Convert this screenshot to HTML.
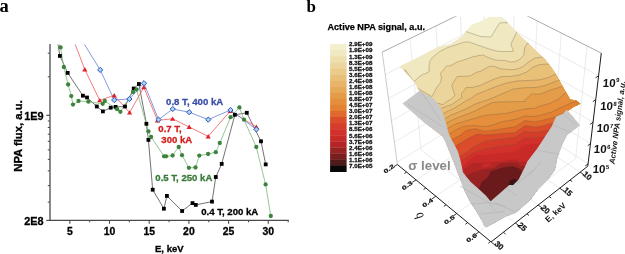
<!DOCTYPE html>
<html><head><meta charset="utf-8"><style>
html,body{margin:0;padding:0;background:#fff;width:625px;height:254px;overflow:hidden}
svg{display:block;will-change:transform}
</style></head><body>
<svg width="625" height="254" viewBox="0 0 625 254">
<rect width="625" height="254" fill="#fff"/>
<line x1="50" y1="44" x2="50" y2="221" stroke="#4a4a4a" stroke-width="1.3"/>
<line x1="49.4" y1="220.4" x2="288.8" y2="220.4" stroke="#4a4a4a" stroke-width="1.3"/>
<line x1="47.8" y1="53.2" x2="50" y2="53.2" stroke="#4a4a4a" stroke-width="1"/>
<line x1="47.8" y1="76.8" x2="50" y2="76.8" stroke="#4a4a4a" stroke-width="1"/>
<line x1="47.8" y1="121" x2="50" y2="121" stroke="#4a4a4a" stroke-width="1"/>
<line x1="47.8" y1="127.5" x2="50" y2="127.5" stroke="#4a4a4a" stroke-width="1"/>
<line x1="47.8" y1="134.2" x2="50" y2="134.2" stroke="#4a4a4a" stroke-width="1"/>
<line x1="47.8" y1="141.3" x2="50" y2="141.3" stroke="#4a4a4a" stroke-width="1"/>
<line x1="47.8" y1="149.9" x2="50" y2="149.9" stroke="#4a4a4a" stroke-width="1"/>
<line x1="47.8" y1="159.4" x2="50" y2="159.4" stroke="#4a4a4a" stroke-width="1"/>
<line x1="47.8" y1="170.9" x2="50" y2="170.9" stroke="#4a4a4a" stroke-width="1"/>
<line x1="47.8" y1="185.6" x2="50" y2="185.6" stroke="#4a4a4a" stroke-width="1"/>
<line x1="47.8" y1="202.1" x2="50" y2="202.1" stroke="#4a4a4a" stroke-width="1"/>
<line x1="46.3" y1="115.3" x2="50" y2="115.3" stroke="#4a4a4a" stroke-width="1.2"/>
<line x1="46.3" y1="220.4" x2="50" y2="220.4" stroke="#4a4a4a" stroke-width="1.2"/>
<line x1="69.8" y1="220.4" x2="69.8" y2="223.8" stroke="#4a4a4a" stroke-width="1.1"/>
<line x1="89.7" y1="220.4" x2="89.7" y2="222.3" stroke="#4a4a4a" stroke-width="1"/>
<line x1="109.5" y1="220.4" x2="109.5" y2="223.8" stroke="#4a4a4a" stroke-width="1.1"/>
<line x1="129.3" y1="220.4" x2="129.3" y2="222.3" stroke="#4a4a4a" stroke-width="1"/>
<line x1="149.2" y1="220.4" x2="149.2" y2="223.8" stroke="#4a4a4a" stroke-width="1.1"/>
<line x1="169.1" y1="220.4" x2="169.1" y2="222.3" stroke="#4a4a4a" stroke-width="1"/>
<line x1="188.9" y1="220.4" x2="188.9" y2="223.8" stroke="#4a4a4a" stroke-width="1.1"/>
<line x1="208.8" y1="220.4" x2="208.8" y2="222.3" stroke="#4a4a4a" stroke-width="1"/>
<line x1="228.6" y1="220.4" x2="228.6" y2="223.8" stroke="#4a4a4a" stroke-width="1.1"/>
<line x1="248.5" y1="220.4" x2="248.5" y2="222.3" stroke="#4a4a4a" stroke-width="1"/>
<line x1="268.3" y1="220.4" x2="268.3" y2="223.8" stroke="#4a4a4a" stroke-width="1.1"/>
<line x1="288.2" y1="220.4" x2="288.2" y2="222.3" stroke="#4a4a4a" stroke-width="1"/>
<clipPath id="cl"><rect x="50" y="44.3" width="240" height="177"/></clipPath>
<g clip-path="url(#cl)">
<polyline points="58,44.3 59.9,55.9 67.7,72.9 82.9,95.7 87,97.5 96.8,106.5 102.9,111.4 110.7,107.7 115.6,106.9 125,106.5 133.7,88.5 138.9,84 146.4,123.8 148.4,139.9 152.7,189.7 163.9,208.7 166.9,195.9 182.1,211 192.5,203.1 195.8,204.9 212,201.6 215.8,177 221.7,163.9 234.9,114.8 246.8,112.8 261,141.3 265.7,164.4" fill="none" stroke="#444" stroke-width="0.75"/>
<polyline points="59.5,44.3 60.6,47.4 63.8,67 68.1,84.5 71.3,96.1 73,104.6 78.5,101 88.4,101.7 102.7,103.8 104.8,101 117.1,109.2 120.4,111.8 133,92 136.5,89.5 148.4,131.3 151.1,137 164.1,156.3 166.1,156.3 172.6,155.5 178.7,147 182,155.2 188.9,167.8 195.5,167.5 199.3,155.6 208.1,154 215.8,152.2 219.8,143 230.6,117.2 239.4,107.4 244,119.7 256.3,147 265.6,184.4 270.8,216" fill="none" stroke="#7db87d" stroke-width="0.8"/>
<polyline points="75.2,44.3 84.8,69.5 99.7,100.3 114.2,95.4 129.6,112.6 143.8,87.3 157.5,120.4 172.6,118.8 189.2,127 208.2,136.4 230.3,111 256.4,126.9" fill="none" stroke="#f05a5a" stroke-width="0.8"/>
<polyline points="84.4,44.3 100.2,69.9 114.2,100 129.4,99 144,83.2 158.5,119.6 172.8,109 189.2,112.2 208.3,119.6 230.5,110 256.4,129.4" fill="none" stroke="#6680d8" stroke-width="0.8"/>
</g>
<rect x="58.0" y="54.0" width="3.8" height="3.8" fill="#000"/>
<rect x="65.8" y="71.0" width="3.8" height="3.8" fill="#000"/>
<rect x="81.0" y="93.8" width="3.8" height="3.8" fill="#000"/>
<rect x="85.1" y="95.6" width="3.8" height="3.8" fill="#000"/>
<rect x="94.9" y="104.6" width="3.8" height="3.8" fill="#000"/>
<rect x="101.0" y="109.5" width="3.8" height="3.8" fill="#000"/>
<rect x="108.8" y="105.8" width="3.8" height="3.8" fill="#000"/>
<rect x="113.7" y="105.0" width="3.8" height="3.8" fill="#000"/>
<rect x="123.1" y="104.6" width="3.8" height="3.8" fill="#000"/>
<rect x="131.8" y="86.6" width="3.8" height="3.8" fill="#000"/>
<rect x="137.0" y="82.1" width="3.8" height="3.8" fill="#000"/>
<rect x="144.5" y="121.9" width="3.8" height="3.8" fill="#000"/>
<rect x="146.5" y="138.0" width="3.8" height="3.8" fill="#000"/>
<rect x="150.8" y="187.8" width="3.8" height="3.8" fill="#000"/>
<rect x="162.0" y="206.8" width="3.8" height="3.8" fill="#000"/>
<rect x="165.0" y="194.0" width="3.8" height="3.8" fill="#000"/>
<rect x="180.2" y="209.1" width="3.8" height="3.8" fill="#000"/>
<rect x="190.6" y="201.2" width="3.8" height="3.8" fill="#000"/>
<rect x="193.9" y="203.0" width="3.8" height="3.8" fill="#000"/>
<rect x="210.1" y="199.7" width="3.8" height="3.8" fill="#000"/>
<rect x="213.9" y="175.1" width="3.8" height="3.8" fill="#000"/>
<rect x="219.8" y="162.0" width="3.8" height="3.8" fill="#000"/>
<rect x="233.0" y="112.9" width="3.8" height="3.8" fill="#000"/>
<rect x="244.9" y="110.9" width="3.8" height="3.8" fill="#000"/>
<rect x="259.1" y="139.4" width="3.8" height="3.8" fill="#000"/>
<rect x="263.8" y="162.5" width="3.8" height="3.8" fill="#000"/>
<circle cx="60.6" cy="47.4" r="2.15" fill="#3c843c"/>
<circle cx="63.8" cy="67" r="2.15" fill="#3c843c"/>
<circle cx="68.1" cy="84.5" r="2.15" fill="#3c843c"/>
<circle cx="71.3" cy="96.1" r="2.15" fill="#3c843c"/>
<circle cx="73" cy="104.6" r="2.15" fill="#3c843c"/>
<circle cx="78.5" cy="101" r="2.15" fill="#3c843c"/>
<circle cx="88.4" cy="101.7" r="2.15" fill="#3c843c"/>
<circle cx="102.7" cy="103.8" r="2.15" fill="#3c843c"/>
<circle cx="104.8" cy="101" r="2.15" fill="#3c843c"/>
<circle cx="117.1" cy="109.2" r="2.15" fill="#3c843c"/>
<circle cx="120.4" cy="111.8" r="2.15" fill="#3c843c"/>
<circle cx="133" cy="92" r="2.15" fill="#3c843c"/>
<circle cx="136.5" cy="89.5" r="2.15" fill="#3c843c"/>
<circle cx="148.4" cy="131.3" r="2.15" fill="#3c843c"/>
<circle cx="151.1" cy="137" r="2.15" fill="#3c843c"/>
<circle cx="164.1" cy="156.3" r="2.15" fill="#3c843c"/>
<circle cx="166.1" cy="156.3" r="2.15" fill="#3c843c"/>
<circle cx="172.6" cy="155.5" r="2.15" fill="#3c843c"/>
<circle cx="178.7" cy="147" r="2.15" fill="#3c843c"/>
<circle cx="182" cy="155.2" r="2.15" fill="#3c843c"/>
<circle cx="188.9" cy="167.8" r="2.15" fill="#3c843c"/>
<circle cx="195.5" cy="167.5" r="2.15" fill="#3c843c"/>
<circle cx="199.3" cy="155.6" r="2.15" fill="#3c843c"/>
<circle cx="208.1" cy="154" r="2.15" fill="#3c843c"/>
<circle cx="215.8" cy="152.2" r="2.15" fill="#3c843c"/>
<circle cx="219.8" cy="143" r="2.15" fill="#3c843c"/>
<circle cx="230.6" cy="117.2" r="2.15" fill="#3c843c"/>
<circle cx="239.4" cy="107.4" r="2.15" fill="#3c843c"/>
<circle cx="244" cy="119.7" r="2.15" fill="#3c843c"/>
<circle cx="256.3" cy="147" r="2.15" fill="#3c843c"/>
<circle cx="265.6" cy="184.4" r="2.15" fill="#3c843c"/>
<circle cx="270.8" cy="216" r="2.15" fill="#3c843c"/>
<path d="M84.8,67.1L87.4,71.5L82.2,71.5Z" fill="#e0202a"/>
<path d="M99.7,97.9L102.3,102.3L97.1,102.3Z" fill="#e0202a"/>
<path d="M114.2,93.0L116.8,97.4L111.6,97.4Z" fill="#e0202a"/>
<path d="M129.6,110.2L132.2,114.6L127.0,114.6Z" fill="#e0202a"/>
<path d="M143.8,84.9L146.4,89.3L141.2,89.3Z" fill="#e0202a"/>
<path d="M157.5,118.0L160.1,122.4L154.9,122.4Z" fill="#e0202a"/>
<path d="M172.6,116.4L175.2,120.8L170.0,120.8Z" fill="#e0202a"/>
<path d="M189.2,124.6L191.8,129.0L186.6,129.0Z" fill="#e0202a"/>
<path d="M208.2,134.0L210.8,138.4L205.6,138.4Z" fill="#e0202a"/>
<path d="M230.3,108.6L232.9,113.0L227.7,113.0Z" fill="#e0202a"/>
<path d="M256.4,124.5L259.0,128.9L253.8,128.9Z" fill="#e0202a"/>
<path d="M100.2,67.3L102.8,69.9L100.2,72.5L97.6,69.9Z" fill="#a8d8f0" stroke="#3050c0" stroke-width="1"/>
<path d="M114.2,97.4L116.8,100.0L114.2,102.6L111.6,100.0Z" fill="#a8d8f0" stroke="#3050c0" stroke-width="1"/>
<path d="M129.4,96.4L132.0,99.0L129.4,101.6L126.8,99.0Z" fill="#a8d8f0" stroke="#3050c0" stroke-width="1"/>
<path d="M144.0,80.6L146.6,83.2L144.0,85.8L141.4,83.2Z" fill="#a8d8f0" stroke="#3050c0" stroke-width="1"/>
<path d="M158.5,117.0L161.1,119.6L158.5,122.2L155.9,119.6Z" fill="#a8d8f0" stroke="#3050c0" stroke-width="1"/>
<path d="M172.8,106.4L175.4,109.0L172.8,111.6L170.2,109.0Z" fill="#a8d8f0" stroke="#3050c0" stroke-width="1"/>
<path d="M189.2,109.6L191.8,112.2L189.2,114.8L186.6,112.2Z" fill="#a8d8f0" stroke="#3050c0" stroke-width="1"/>
<path d="M208.3,117.0L210.9,119.6L208.3,122.2L205.7,119.6Z" fill="#a8d8f0" stroke="#3050c0" stroke-width="1"/>
<path d="M230.5,107.4L233.1,110.0L230.5,112.6L227.9,110.0Z" fill="#a8d8f0" stroke="#3050c0" stroke-width="1"/>
<path d="M256.4,126.8L259.0,129.4L256.4,132.0L253.8,129.4Z" fill="#a8d8f0" stroke="#3050c0" stroke-width="1"/>
<text x="-0.6" y="12.1" font-family="Liberation Serif, serif" font-weight="bold" font-size="18.5" fill="#000">a</text>
<text x="43.6" y="119.5" font-family="Liberation Sans, sans-serif" font-weight="bold" stroke-width="0.3" font-size="10.9" text-anchor="end" fill="#000" stroke="#000">1E9</text>
<text x="43.6" y="224.6" font-family="Liberation Sans, sans-serif" font-weight="bold" stroke-width="0.3" font-size="10.9" text-anchor="end" fill="#000" stroke="#000">2E8</text>
<text x="69.8" y="235.1" font-family="Liberation Sans, sans-serif" font-weight="bold" stroke-width="0.3" font-size="10.4" text-anchor="middle" fill="#000" stroke="#000">5</text>
<text x="109.5" y="235.1" font-family="Liberation Sans, sans-serif" font-weight="bold" stroke-width="0.3" font-size="10.4" text-anchor="middle" fill="#000" stroke="#000">10</text>
<text x="149.2" y="235.1" font-family="Liberation Sans, sans-serif" font-weight="bold" stroke-width="0.3" font-size="10.4" text-anchor="middle" fill="#000" stroke="#000">15</text>
<text x="188.9" y="235.1" font-family="Liberation Sans, sans-serif" font-weight="bold" stroke-width="0.3" font-size="10.4" text-anchor="middle" fill="#000" stroke="#000">20</text>
<text x="228.6" y="235.1" font-family="Liberation Sans, sans-serif" font-weight="bold" stroke-width="0.3" font-size="10.4" text-anchor="middle" fill="#000" stroke="#000">25</text>
<text x="268.3" y="235.1" font-family="Liberation Sans, sans-serif" font-weight="bold" stroke-width="0.3" font-size="10.4" text-anchor="middle" fill="#000" stroke="#000">30</text>
<text x="169.3" y="252.3" font-family="Liberation Sans, sans-serif" font-weight="bold" stroke-width="0.3" font-size="9.5" text-anchor="middle" fill="#000" stroke="#000">E, keV</text>
<text transform="translate(21.6,136) rotate(-90)" font-family="Liberation Sans, sans-serif" font-weight="bold" stroke-width="0.3" font-size="11.3" text-anchor="middle" fill="#000" stroke="#000">NPA flux, a.u.</text>
<text x="166.1" y="104.7" font-family="Liberation Sans, sans-serif" font-weight="bold" stroke-width="0.3" font-size="9.6" fill="#3a4fa8" stroke="#3a4fa8">0.8 T, 400 kA</text>
<text x="158.3" y="132.1" font-family="Liberation Sans, sans-serif" font-weight="bold" stroke-width="0.3" font-size="9.6" fill="#d42020" stroke="#d42020">0.7 T,</text>
<text x="161.3" y="143.2" font-family="Liberation Sans, sans-serif" font-weight="bold" stroke-width="0.3" font-size="9.6" fill="#d42020" stroke="#d42020">300 kA</text>
<text x="155.3" y="181.1" font-family="Liberation Sans, sans-serif" font-weight="bold" stroke-width="0.3" font-size="9.6" fill="#3a7a3a" stroke="#3a7a3a">0.5 T, 250 kA</text>
<text x="201.2" y="214.6" font-family="Liberation Sans, sans-serif" font-weight="bold" stroke-width="0.3" font-size="9.6" fill="#000" stroke="#000">0.4 T, 200 kA</text>
<text x="306.5" y="11.6" font-family="Liberation Serif, serif" font-weight="bold" font-size="17" fill="#000">b</text>
<text x="327.5" y="30.3" font-family="Liberation Sans, sans-serif" font-weight="bold" font-size="9.1" fill="#000" stroke="#000" stroke-width="0.25">Active NPA signal, a.u.</text>
<rect x="330.1" y="44.00" width="16.5" height="6.38" fill="#f3f0d0"/>
<rect x="330.1" y="50.08" width="16.5" height="6.38" fill="#f0e8c0"/>
<rect x="330.1" y="56.16" width="16.5" height="6.38" fill="#eedfae"/>
<rect x="330.1" y="62.24" width="16.5" height="6.38" fill="#ecd59c"/>
<rect x="330.1" y="68.32" width="16.5" height="6.38" fill="#eacb8a"/>
<rect x="330.1" y="74.40" width="16.5" height="6.38" fill="#e8c078"/>
<rect x="330.1" y="80.49" width="16.5" height="6.38" fill="#e7b468"/>
<rect x="330.1" y="86.57" width="16.5" height="6.38" fill="#e6a958"/>
<rect x="330.1" y="92.65" width="16.5" height="6.38" fill="#e59c48"/>
<rect x="330.1" y="98.73" width="16.5" height="6.38" fill="#e58f3c"/>
<rect x="330.1" y="104.81" width="16.5" height="6.38" fill="#e38232"/>
<rect x="330.1" y="110.89" width="16.5" height="6.38" fill="#e06a2c"/>
<rect x="330.1" y="116.97" width="16.5" height="6.38" fill="#da4c2a"/>
<rect x="330.1" y="123.05" width="16.5" height="6.38" fill="#d63c2a"/>
<rect x="330.1" y="129.13" width="16.5" height="6.38" fill="#d2302a"/>
<rect x="330.1" y="135.21" width="16.5" height="6.38" fill="#c82a28"/>
<rect x="330.1" y="141.30" width="16.5" height="6.38" fill="#b42626"/>
<rect x="330.1" y="147.38" width="16.5" height="6.38" fill="#962222"/>
<rect x="330.1" y="153.46" width="16.5" height="6.38" fill="#781e1e"/>
<rect x="330.1" y="159.54" width="16.5" height="6.38" fill="#4e1a1a"/>
<rect x="330.1" y="165.62" width="16.5" height="6.38" fill="#0a0808"/>
<text x="349.1" y="46.3" font-family="Liberation Sans, sans-serif" font-weight="bold" font-size="6.2" fill="#111" stroke="#111" stroke-width="0.3">2.9E+09</text>
<text x="349.1" y="52.4" font-family="Liberation Sans, sans-serif" font-weight="bold" font-size="6.2" fill="#111" stroke="#111" stroke-width="0.3">1.9E+09</text>
<text x="349.1" y="58.5" font-family="Liberation Sans, sans-serif" font-weight="bold" font-size="6.2" fill="#111" stroke="#111" stroke-width="0.3">1.3E+09</text>
<text x="349.1" y="64.5" font-family="Liberation Sans, sans-serif" font-weight="bold" font-size="6.2" fill="#111" stroke="#111" stroke-width="0.3">8.3E+08</text>
<text x="349.1" y="70.6" font-family="Liberation Sans, sans-serif" font-weight="bold" font-size="6.2" fill="#111" stroke="#111" stroke-width="0.3">5.5E+08</text>
<text x="349.1" y="76.7" font-family="Liberation Sans, sans-serif" font-weight="bold" font-size="6.2" fill="#111" stroke="#111" stroke-width="0.3">3.6E+08</text>
<text x="349.1" y="82.8" font-family="Liberation Sans, sans-serif" font-weight="bold" font-size="6.2" fill="#111" stroke="#111" stroke-width="0.3">2.4E+08</text>
<text x="349.1" y="88.9" font-family="Liberation Sans, sans-serif" font-weight="bold" font-size="6.2" fill="#111" stroke="#111" stroke-width="0.3">1.6E+08</text>
<text x="349.1" y="94.9" font-family="Liberation Sans, sans-serif" font-weight="bold" font-size="6.2" fill="#111" stroke="#111" stroke-width="0.3">1.0E+08</text>
<text x="349.1" y="101.0" font-family="Liberation Sans, sans-serif" font-weight="bold" font-size="6.2" fill="#111" stroke="#111" stroke-width="0.3">6.8E+07</text>
<text x="349.1" y="107.1" font-family="Liberation Sans, sans-serif" font-weight="bold" font-size="6.2" fill="#111" stroke="#111" stroke-width="0.3">4.5E+07</text>
<text x="349.1" y="113.2" font-family="Liberation Sans, sans-serif" font-weight="bold" font-size="6.2" fill="#111" stroke="#111" stroke-width="0.3">3.0E+07</text>
<text x="349.1" y="119.3" font-family="Liberation Sans, sans-serif" font-weight="bold" font-size="6.2" fill="#111" stroke="#111" stroke-width="0.3">2.0E+07</text>
<text x="349.1" y="125.4" font-family="Liberation Sans, sans-serif" font-weight="bold" font-size="6.2" fill="#111" stroke="#111" stroke-width="0.3">1.3E+07</text>
<text x="349.1" y="131.4" font-family="Liberation Sans, sans-serif" font-weight="bold" font-size="6.2" fill="#111" stroke="#111" stroke-width="0.3">8.5E+06</text>
<text x="349.1" y="137.5" font-family="Liberation Sans, sans-serif" font-weight="bold" font-size="6.2" fill="#111" stroke="#111" stroke-width="0.3">5.6E+06</text>
<text x="349.1" y="143.6" font-family="Liberation Sans, sans-serif" font-weight="bold" font-size="6.2" fill="#111" stroke="#111" stroke-width="0.3">3.7E+06</text>
<text x="349.1" y="149.7" font-family="Liberation Sans, sans-serif" font-weight="bold" font-size="6.2" fill="#111" stroke="#111" stroke-width="0.3">2.4E+06</text>
<text x="349.1" y="155.8" font-family="Liberation Sans, sans-serif" font-weight="bold" font-size="6.2" fill="#111" stroke="#111" stroke-width="0.3">1.6E+06</text>
<text x="349.1" y="161.8" font-family="Liberation Sans, sans-serif" font-weight="bold" font-size="6.2" fill="#111" stroke="#111" stroke-width="0.3">1.1E+06</text>
<text x="349.1" y="167.9" font-family="Liberation Sans, sans-serif" font-weight="bold" font-size="6.2" fill="#111" stroke="#111" stroke-width="0.3">7.0E+05</text>
<clipPath id="c3d"><rect x="370" y="16.2" width="260" height="240"/></clipPath>
<g clip-path="url(#c3d)">
<line x1="485.5" y1="110.1" x2="483.7" y2="2.7" stroke="#dedede" stroke-width="0.6"/>
<line x1="465.1" y1="122.7" x2="460.5" y2="14.0" stroke="#dedede" stroke-width="0.6"/>
<line x1="443.7" y1="135.9" x2="435.9" y2="26.0" stroke="#dedede" stroke-width="0.6"/>
<line x1="421.1" y1="149.9" x2="409.9" y2="38.6" stroke="#dedede" stroke-width="0.6"/>
<line x1="397.1" y1="162.2" x2="493.2" y2="103.1" stroke="#dedede" stroke-width="0.6"/>
<line x1="493.2" y1="103.1" x2="588.1" y2="163.8" stroke="#dedede" stroke-width="0.6"/>
<line x1="394.4" y1="142.0" x2="493.1" y2="83.7" stroke="#dedede" stroke-width="0.6"/>
<line x1="493.1" y1="83.7" x2="590.5" y2="143.6" stroke="#dedede" stroke-width="0.6"/>
<line x1="391.5" y1="120.8" x2="492.9" y2="63.4" stroke="#dedede" stroke-width="0.6"/>
<line x1="492.9" y1="63.4" x2="593.0" y2="122.2" stroke="#dedede" stroke-width="0.6"/>
<line x1="388.5" y1="98.4" x2="492.8" y2="42.0" stroke="#dedede" stroke-width="0.6"/>
<line x1="492.8" y1="42.0" x2="595.7" y2="99.7" stroke="#dedede" stroke-width="0.6"/>
<line x1="385.3" y1="74.6" x2="492.6" y2="19.6" stroke="#dedede" stroke-width="0.6"/>
<line x1="492.6" y1="19.6" x2="598.6" y2="75.8" stroke="#dedede" stroke-width="0.6"/>
<line x1="512.3" y1="117.6" x2="514.1" y2="9.3" stroke="#dedede" stroke-width="0.6"/>
<line x1="512.3" y1="117.6" x2="416.1" y2="179.9" stroke="#dedede" stroke-width="0.6"/>
<line x1="532.3" y1="130.5" x2="537.0" y2="20.8" stroke="#dedede" stroke-width="0.6"/>
<line x1="532.3" y1="130.5" x2="435.8" y2="196.2" stroke="#dedede" stroke-width="0.6"/>
<line x1="553.4" y1="144.1" x2="561.3" y2="33.0" stroke="#dedede" stroke-width="0.6"/>
<line x1="553.4" y1="144.1" x2="456.7" y2="213.5" stroke="#dedede" stroke-width="0.6"/>
<line x1="575.7" y1="158.4" x2="587.1" y2="46.0" stroke="#dedede" stroke-width="0.6"/>
<line x1="575.7" y1="158.4" x2="478.9" y2="231.9" stroke="#dedede" stroke-width="0.6"/>
<line x1="485.5" y1="110.1" x2="580.1" y2="172.2" stroke="#dedede" stroke-width="0.6"/>
<line x1="465.1" y1="122.7" x2="559.7" y2="188.2" stroke="#dedede" stroke-width="0.6"/>
<line x1="443.7" y1="135.9" x2="538.1" y2="205.0" stroke="#dedede" stroke-width="0.6"/>
<line x1="421.1" y1="149.9" x2="515.3" y2="222.9" stroke="#dedede" stroke-width="0.6"/>
<line x1="397.4" y1="164.5" x2="382.2" y2="52.1" stroke="#b4b4b4" stroke-width="0.7"/>
<line x1="382.2" y1="52.1" x2="492.5" y2="-1.6" stroke="#959595" stroke-width="0.8"/>
<line x1="492.5" y1="-1.6" x2="601.3" y2="53.1" stroke="#959595" stroke-width="0.8"/>
<clipPath id="sc"><polygon points="399.2,66.6 417.7,57.7 437.8,47.1 450.7,43.9 462.6,36.0 466.0,31.0 471.5,24.4 480.0,21.3 489.5,16.8 502.0,16.8 519.7,35.0 545.7,60.0 552.6,68.9 557.5,76.7 564.4,89.5 570.3,99.4 576.2,100.5 580.5,103.8 573.9,106.8 566.8,111.5 563.6,113.9 566.8,110.5 570.7,114.8 579.2,125.2 566.8,134.8 561.3,145.8 557.0,158.0 554.6,170.0 547.5,179.5 538.0,189.0 531.0,198.4 525.0,204.3 515.6,212.6 506.0,216.0 495.5,222.0 486.5,226.7 484.5,225.8 483.0,222.0 476.5,211.0 469.5,200.0 465.0,191.0 461.0,180.0 457.0,170.0 452.0,157.0 445.0,140.0 442.7,136.0 425.0,122.5 403.3,103.6 419.5,91.5 414.8,82.6 405.0,71.7"/></clipPath>
<g clip-path="url(#sc)">
<polygon points="399.2,66.6 417.7,57.7 437.8,47.1 450.7,43.9 462.6,36.0 466.0,31.0 471.5,24.4 480.0,21.3 489.5,16.8 502.0,16.8 519.7,35.0 545.7,60.0 552.6,68.9 557.5,76.7 564.4,89.5 570.3,99.4 576.2,100.5 580.5,103.8 573.9,106.8 566.8,111.5 563.6,113.9 566.8,110.5 570.7,114.8 579.2,125.2 566.8,134.8 561.3,145.8 557.0,158.0 554.6,170.0 547.5,179.5 538.0,189.0 531.0,198.4 525.0,204.3 515.6,212.6 506.0,216.0 495.5,222.0 486.5,226.7 484.5,225.8 483.0,222.0 476.5,211.0 469.5,200.0 465.0,191.0 461.0,180.0 457.0,170.0 452.0,157.0 445.0,140.0 442.7,136.0 425.0,122.5 403.3,103.6 419.5,91.5 414.8,82.6 405.0,71.7" fill="#f3f0d0"/>
<path d="M395.5,12.0L433.0,12.0L437.5,17.5L447.0,27.0L454.9,33.0L439.0,41.5L439.0,41.9L466.0,31.5L480.5,36.5L491.0,37.0L499.5,23.0L505.0,22.5L507.0,23.3L505.6,19.0L506.0,18.0L513.5,26.0L528.0,12.0L585.5,12.0L585.5,229.5L395.0,229.5L395.0,12.0Z" fill="#f0e8c0" fill-rule="evenodd"/>
<path d="M545.5,12.0L585.5,12.0L585.5,229.5L395.0,229.5L395.0,122.5L418.5,95.0L410.5,80.5L409.5,79.5L406.7,73.5L405.7,72.5L404.8,70.5L405.0,69.7L413.5,81.1L414.5,81.6L416.6,79.0L420.0,76.2L423.5,74.0L424.5,74.0L429.5,71.5L429.0,70.0L429.0,66.0L430.2,60.5L432.5,57.5L439.5,51.7L446.6,48.0L464.5,42.0L469.0,42.0L489.0,49.0L497.0,51.1L498.5,51.0L499.0,51.5L513.0,51.5L513.0,49.0L511.0,45.5L511.0,44.0L516.5,32.5L516.6,31.0L518.0,31.0L523.5,36.0L545.0,12.5ZM404.0,68.3L404.9,69.5L403.8,69.0L403.9,68.5Z" fill="#eedfae" fill-rule="evenodd"/>
<path d="M572.0,12.0L585.5,12.0L585.5,229.5L395.0,229.5L395.0,131.0L403.0,127.0L413.0,120.5L414.5,120.0L420.5,116.0L427.0,110.5L426.5,108.5L419.5,97.0L418.7,94.5L413.7,86.5L412.8,84.0L411.7,83.0L410.8,80.5L409.8,79.5L409.5,77.6L417.5,88.2L432.0,96.7L436.7,87.5L440.5,82.5L441.5,78.0L440.5,73.5L446.5,66.1L451.0,65.5L456.0,62.5L472.5,57.0L473.5,56.0L475.5,56.5L478.5,55.5L481.0,55.5L481.5,55.0L483.0,55.0L488.0,57.5L496.0,60.2L505.0,60.5L510.0,62.0L514.5,61.7L519.0,60.0L524.0,55.0L524.5,48.0L527.0,43.5L528.0,43.2L529.0,43.6L529.5,43.0L534.5,48.5L537.5,47.0L571.5,12.5ZM479.0,54.5L480.0,55.0L479.5,55.5L478.5,55.0Z" fill="#ecd59c" fill-rule="evenodd"/>
<path d="M585.5,20.5L585.5,229.5L395.0,229.5L395.0,131.1L403.0,127.1L414.5,120.2L420.5,116.2L427.2,110.5L426.6,108.5L419.7,97.0L414.9,87.5L413.9,86.5L413.5,84.8L421.5,95.2L424.0,95.7L435.0,102.5L443.0,104.6L445.5,102.3L451.0,99.0L455.0,95.5L451.7,85.5L457.0,76.5L470.0,76.0L477.0,72.0L480.0,71.5L489.0,66.5L491.0,66.5L491.5,66.0L493.5,66.0L500.5,68.8L502.4,69.0L512.0,69.8L517.5,68.9L522.5,66.9L528.6,62.0L535.0,58.0L542.5,57.0L545.5,59.5L548.0,58.0L585.0,21.0ZM539.5,53.5L541.0,55.0L540.5,55.3L539.4,54.0Z" fill="#eacb8a" fill-rule="evenodd"/>
<path d="M585.5,45.5L585.5,229.5L395.0,229.5L395.0,131.2L409.0,123.8L420.0,116.5L429.5,114.0L428.0,112.0L426.8,108.5L421.8,100.5L420.9,98.0L419.9,97.0L419.0,94.1L425.0,101.9L426.0,101.5L428.0,102.0L438.0,108.1L441.5,108.3L448.5,105.5L451.0,105.0L462.0,97.5L461.5,97.0L461.5,93.5L465.5,89.0L465.0,88.5L466.5,87.5L472.0,87.5L480.0,85.5L494.0,79.1L502.0,76.5L510.0,76.5L519.0,75.0L526.8,72.0L533.0,67.0L540.0,64.5L549.0,64.0L553.0,68.5L585.0,46.0ZM418.0,92.7L418.9,94.0L417.9,93.5L418.0,93.0Z" fill="#e8c078" fill-rule="evenodd"/>
<path d="M585.5,60.5L585.5,229.5L395.0,229.5L395.0,131.4L408.0,124.5L414.0,123.5L414.5,123.0L432.0,119.0L429.5,114.5L429.2,113.0L428.2,112.0L426.9,108.5L423.9,104.0L423.5,102.0L428.5,108.5L429.5,108.0L431.5,108.3L441.0,113.7L443.0,113.7L455.0,107.7L467.5,100.0L471.0,98.5L475.5,94.8L497.5,86.0L505.0,83.5L516.5,81.0L538.5,80.0L540.7,79.5L548.5,77.5L556.0,74.0L555.5,72.0L558.5,76.0L559.0,76.0L585.0,61.0Z" fill="#e7b468" fill-rule="evenodd"/>
<path d="M585.5,65.0L585.5,229.5L395.0,229.5L395.0,138.0L435.5,124.5L434.0,122.5L431.2,116.5L430.2,115.5L429.4,113.0L428.4,112.0L427.5,109.2L432.0,115.1L433.5,114.5L436.0,114.9L444.0,119.2L451.0,115.2L467.0,108.5L475.0,104.1L490.0,99.0L513.5,89.0L525.0,87.7L535.9,87.5L545.0,85.5L559.5,80.0L561.5,80.6L561.5,79.5L562.5,81.0L563.5,81.5L585.0,65.5Z" fill="#e6a958" fill-rule="evenodd"/>
<path d="M585.5,74.5L585.5,229.5L395.0,229.5L395.0,139.0L437.5,128.0L432.4,119.0L432.0,117.2L435.5,121.7L437.5,121.0L439.5,121.3L445.5,124.0L446.0,123.2L453.5,119.4L475.0,111.0L492.0,102.5L501.0,101.9L525.0,101.5L525.0,100.0L531.5,94.0L540.5,94.0L553.5,89.0L564.0,86.0L567.0,87.7L571.5,84.0L585.0,75.0Z" fill="#e59c48" fill-rule="evenodd"/>
<path d="M585.5,83.5L585.5,229.5L395.0,229.5L395.0,145.0L395.5,144.5L397.0,144.5L397.5,144.0L403.0,143.0L405.0,142.0L406.5,142.0L407.0,141.5L430.5,136.0L432.5,135.0L440.0,133.5L440.0,132.5L437.5,128.5L437.8,128.0L437.4,127.0L436.3,126.0L436.5,125.1L439.0,128.4L441.0,127.5L447.0,128.8L455.5,124.0L484.0,115.5L506.5,113.2L525.0,109.0L535.5,108.0L540.0,106.0L549.5,103.5L558.5,99.0L567.5,91.0L573.0,94.6L577.0,92.0L585.0,84.0Z" fill="#e58f3c" fill-rule="evenodd"/>
<path d="M575.5,101.5L579.0,102.5L574.0,108.0L573.0,110.0L575.5,111.0L578.0,113.5L585.5,123.5L585.5,229.5L395.0,229.5L395.0,157.0L395.5,156.5L414.5,150.0L416.0,149.0L421.5,147.5L428.5,144.5L434.0,143.0L441.0,140.0L443.5,139.5L443.5,138.5L440.5,133.5L440.5,132.3L443.0,135.2L445.0,134.0L448.5,134.3L457.7,129.0L464.0,126.2L475.0,125.5L482.3,126.5L486.5,126.5L494.3,124.5L502.5,121.6L515.0,119.5L525.0,116.0L535.0,116.5L539.5,115.5L551.5,112.1L571.5,102.8L575.0,102.0Z" fill="#e38232" fill-rule="evenodd"/>
<path d="M572.0,109.9L572.5,110.0L571.0,112.0L565.5,118.0L563.5,121.0L568.0,124.0L572.0,127.5L585.5,141.0L585.5,229.5L395.0,229.5L395.0,161.0L395.5,160.5L397.0,160.5L402.0,158.5L403.5,158.5L408.5,156.5L410.0,156.5L415.0,154.5L416.5,154.5L421.5,152.5L423.0,152.5L428.0,150.5L429.5,150.5L434.5,148.5L436.0,148.5L441.0,146.5L442.5,146.5L447.0,145.0L445.0,141.0L446.5,141.9L448.5,140.6L450.5,140.5L460.5,135.0L466.0,130.5L475.0,128.7L485.0,131.4L513.2,127.0L515.0,126.7L525.0,120.5L535.0,121.9L552.0,118.0L571.8,110.0ZM444.5,139.6L445.0,141.0L444.0,140.0Z" fill="#e06a2c" fill-rule="evenodd"/>
<path d="M565.0,117.9L565.1,118.5L563.1,120.5L563.0,121.5L557.0,128.5L572.5,140.5L585.5,148.0L585.5,229.5L395.0,229.5L395.0,172.0L398.0,171.5L401.5,170.0L403.0,170.0L406.5,168.5L408.0,168.5L414.0,166.5L419.0,164.0L422.5,163.0L425.0,161.5L426.0,161.5L431.0,159.0L432.0,159.0L437.0,156.5L438.0,156.5L443.0,154.0L450.0,151.5L450.5,151.0L449.0,148.5L449.5,148.2L450.1,148.5L461.0,142.8L470.0,137.3L478.0,134.0L485.0,135.0L515.0,132.5L524.5,126.0L526.5,125.8L535.0,127.2L542.0,126.0L556.0,122.0L564.6,118.0Z" fill="#da4c2a" fill-rule="evenodd"/>
<path d="M557.5,126.0L558.5,125.6L558.5,126.0L556.5,129.0L552.0,134.0L571.5,140.0L585.5,148.2L585.5,229.5L395.0,229.5L395.0,172.2L398.0,171.8L401.5,170.2L403.0,170.2L406.5,168.8L408.0,168.8L415.5,166.0L417.5,166.0L420.0,165.0L422.0,165.0L424.5,164.0L426.5,164.0L427.0,163.5L435.5,162.0L438.0,161.0L440.0,161.0L442.5,160.0L447.5,159.5L448.0,159.0L455.0,159.0L453.0,155.5L454.5,154.7L455.0,153.0L456.5,154.5L456.5,155.5L457.5,157.0L458.5,157.5L459.5,157.0L460.0,156.0L461.0,156.0L465.6,153.0L473.0,147.3L485.0,140.9L515.0,137.4L524.5,131.5L535.0,132.5L550.0,130.0L557.5,126.0Z" fill="#d63c2a" fill-rule="evenodd"/>
<path d="M551.0,133.8L551.5,133.6L552.0,134.5L549.0,137.5L548.5,139.0L558.0,142.5L559.5,143.5L560.5,143.5L562.0,144.5L563.0,144.5L564.5,145.5L565.5,145.5L567.0,146.5L568.0,146.5L569.5,147.5L570.5,147.5L572.0,148.5L573.0,148.5L574.5,149.5L575.5,149.5L577.0,150.5L578.0,150.5L579.5,151.5L580.5,151.5L582.0,152.5L583.0,152.5L584.5,153.5L585.5,153.5L585.5,229.5L395.0,229.5L395.0,209.5L459.0,165.5L458.0,163.5L466.0,157.5L474.0,152.6L485.0,149.0L499.0,146.3L515.0,144.5L524.5,138.0L535.0,138.0L542.0,137.0L548.0,136.0L550.7,134.0Z" fill="#d2302a" fill-rule="evenodd"/>
<path d="M548.0,139.0L549.5,140.0L550.5,140.0L554.5,142.0L555.5,142.0L557.0,143.0L558.0,143.0L559.5,144.0L560.5,144.0L567.0,147.0L568.0,147.0L569.5,148.0L570.5,148.0L572.0,149.0L585.5,154.0L585.5,229.5L395.0,229.5L395.0,210.0L458.5,166.0L459.5,166.0L460.5,167.5L461.0,167.4L471.0,158.5L475.5,155.5L496.0,154.0L496.9,153.5L513.5,152.0L517.0,150.5L525.0,144.5L530.5,144.4L541.5,143.0L545.5,141.5L548.0,139.0Z" fill="#c82a28" fill-rule="evenodd"/>
<path d="M433.0,12.0L437.5,17.5L447.0,27.0L454.9,33.0L439.0,41.5L439.0,41.9L466.0,31.5L480.5,36.5L491.0,37.0L499.5,23.0L505.0,22.5L507.0,23.3L505.6,19.0L506.0,18.0L513.5,26.0L528.0,12.0" fill="none" stroke="#6a5a40" stroke-opacity="0.55" stroke-width="0.6"/>
<path d="M395.0,123.0L418.5,95.0L410.5,80.5L409.5,79.5L406.7,73.5L405.7,72.5L404.8,70.5L405.0,69.7L413.5,81.1L414.5,81.6L416.6,79.0L420.0,76.2L423.5,74.0L424.5,74.0L429.5,71.5L429.0,70.0L429.0,66.0L430.2,60.5L432.5,57.5L439.5,51.7L446.6,48.0L464.5,42.0L469.0,42.0L489.0,49.0L497.0,51.1L498.5,51.0L499.0,51.5L513.0,51.5L513.0,49.0L511.0,45.5L511.0,44.0L516.5,32.5L516.6,31.0L518.0,31.0L523.5,36.0L545.5,12.0" fill="none" stroke="#6a5a40" stroke-opacity="0.55" stroke-width="0.6"/>
<path d="M395.0,131.0L403.0,127.0L413.0,120.5L414.5,120.0L420.5,116.0L427.0,110.5L426.5,108.5L419.5,97.0L418.7,94.5L413.7,86.5L412.8,84.0L411.7,83.0L410.8,80.5L409.8,79.5L409.5,77.6L417.5,88.2L432.0,96.7L436.7,87.5L440.5,82.5L441.5,78.0L440.5,73.5L446.5,66.1L451.0,65.5L456.0,62.5L472.5,57.0L473.5,56.0L475.5,56.5L478.5,55.5L481.0,55.5L481.5,55.0L483.0,55.0L488.0,57.5L496.0,60.2L505.0,60.5L510.0,62.0L514.5,61.7L519.0,60.0L524.0,55.0L524.5,48.0L527.0,43.5L528.0,43.2L529.0,43.6L529.5,43.0L534.5,48.5L537.5,47.0L572.0,12.0" fill="none" stroke="#6a5a40" stroke-opacity="0.55" stroke-width="0.6"/>
<path d="M395.0,131.1L403.0,127.1L414.5,120.2L420.5,116.2L427.2,110.5L426.6,108.5L419.7,97.0L414.9,87.5L413.9,86.5L413.5,84.8L421.5,95.2L424.0,95.7L435.0,102.5L443.0,104.6L445.5,102.3L451.0,99.0L455.0,95.5L451.7,85.5L457.0,76.5L470.0,76.0L477.0,72.0L480.0,71.5L489.0,66.5L491.0,66.5L491.5,66.0L493.5,66.0L500.5,68.8L502.4,69.0L512.0,69.8L517.5,68.9L522.5,66.9L528.6,62.0L535.0,58.0L542.5,57.0L545.5,59.5L548.0,58.0L585.5,20.5" fill="none" stroke="#6a5a40" stroke-opacity="0.55" stroke-width="0.6"/>
<path d="M395.0,131.2L409.0,123.8L420.0,116.5L429.5,114.0L428.0,112.0L426.8,108.5L421.8,100.5L420.9,98.0L419.9,97.0L419.0,94.1L425.0,101.9L426.0,101.5L428.0,102.0L438.0,108.1L441.5,108.3L448.5,105.5L451.0,105.0L462.0,97.5L461.5,97.0L461.5,93.5L465.5,89.0L465.0,88.5L466.5,87.5L472.0,87.5L480.0,85.5L494.0,79.1L502.0,76.5L510.0,76.5L519.0,75.0L526.8,72.0L533.0,67.0L540.0,64.5L549.0,64.0L553.0,68.5L585.5,45.5" fill="none" stroke="#6a5a40" stroke-opacity="0.55" stroke-width="0.6"/>
<path d="M395.0,131.4L408.0,124.5L414.0,123.5L414.5,123.0L432.0,119.0L429.5,114.5L429.2,113.0L428.2,112.0L426.9,108.5L423.9,104.0L423.5,102.0L428.5,108.5L429.5,108.0L431.5,108.3L441.0,113.7L443.0,113.7L455.0,107.7L467.5,100.0L471.0,98.5L475.5,94.8L497.5,86.0L505.0,83.5L516.5,81.0L538.5,80.0L540.7,79.5L548.5,77.5L556.0,74.0L555.5,72.0L558.5,76.0L559.0,76.0L585.5,60.5" fill="none" stroke="#6a5a40" stroke-opacity="0.55" stroke-width="0.6"/>
<path d="M395.0,138.0L435.5,124.5L434.0,122.5L431.2,116.5L430.2,115.5L429.4,113.0L428.4,112.0L427.5,109.2L432.0,115.1L433.5,114.5L436.0,114.9L444.0,119.2L451.0,115.2L467.0,108.5L475.0,104.1L490.0,99.0L513.5,89.0L525.0,87.7L535.9,87.5L545.0,85.5L559.5,80.0L561.5,80.6L561.5,79.5L562.5,81.0L563.5,81.5L585.5,65.0" fill="none" stroke="#6a5a40" stroke-opacity="0.55" stroke-width="0.6"/>
<path d="M395.0,139.0L437.5,128.0L432.4,119.0L432.0,117.2L435.5,121.7L437.5,121.0L439.5,121.3L445.5,124.0L446.0,123.2L453.5,119.4L475.0,111.0L492.0,102.5L501.0,101.9L525.0,101.5L525.0,100.0L531.5,94.0L540.5,94.0L553.5,89.0L564.0,86.0L567.0,87.7L568.0,86.5L585.5,74.5" fill="none" stroke="#6a5a40" stroke-opacity="0.55" stroke-width="0.6"/>
<path d="M395.0,145.0L395.5,144.5L403.0,143.0L405.0,142.0L406.5,142.0L407.0,141.5L430.5,136.0L432.5,135.0L440.0,133.5L440.0,132.5L437.5,128.5L437.8,128.0L437.4,127.0L436.3,126.0L436.5,125.1L439.0,128.4L441.0,127.5L447.0,128.8L455.5,124.0L484.0,115.5L506.5,113.2L525.0,109.0L535.5,108.0L540.0,106.0L549.5,103.5L558.5,99.0L567.5,91.0L573.0,94.6L577.0,92.0L585.5,83.5" fill="none" stroke="#6a5a40" stroke-opacity="0.55" stroke-width="0.6"/>
<path d="M395.0,157.0L398.0,155.5L409.0,152.0L410.5,151.0L414.5,150.0L416.0,149.0L421.5,147.5L423.0,146.5L443.5,139.5L443.5,138.5L440.5,133.5L440.5,132.3L443.0,135.2L445.0,134.0L448.5,134.3L457.7,129.0L464.0,126.2L475.0,125.5L482.3,126.5L486.5,126.5L494.3,124.5L502.5,121.6L515.0,119.5L525.0,116.0L535.0,116.5L539.5,115.5L551.5,112.1L571.5,102.8L575.5,101.5L579.0,102.5L574.0,108.0L573.0,110.0L575.5,111.0L578.0,113.5L585.5,123.5" fill="none" stroke="#6a5a40" stroke-opacity="0.55" stroke-width="0.6"/>
<path d="M395.0,161.0L447.0,145.0L445.0,141.0L446.5,141.9L448.5,140.6L450.5,140.5L460.5,135.0L466.0,130.5L475.0,128.7L485.0,131.4L513.2,127.0L515.0,126.7L525.0,120.5L535.0,121.9L552.0,118.0L572.0,109.9L572.5,110.0L571.0,112.0L565.5,118.0L563.5,121.0L568.0,124.0L572.0,127.5L585.5,141.0" fill="none" stroke="#6a5a40" stroke-opacity="0.55" stroke-width="0.6"/>
<path d="M395.0,172.0L398.0,171.5L401.5,170.0L403.0,170.0L406.5,168.5L408.0,168.5L414.0,166.5L419.0,164.0L422.5,163.0L425.0,161.5L426.0,161.5L431.0,159.0L432.0,159.0L437.0,156.5L438.0,156.5L443.0,154.0L450.0,151.5L450.5,151.0L449.0,148.5L449.5,148.2L450.1,148.5L461.0,142.8L470.0,137.3L478.0,134.0L485.0,135.0L515.0,132.5L524.5,126.0L526.5,125.8L535.0,127.2L542.0,126.0L556.0,122.0L561.0,119.3L565.0,117.9L565.1,118.5L563.1,120.5L563.0,121.5L557.0,128.5L572.5,140.5L585.5,148.0" fill="none" stroke="#6a5a40" stroke-opacity="0.55" stroke-width="0.6"/>
<path d="M395.0,172.2L398.0,171.8L401.5,170.2L403.0,170.2L406.5,168.8L408.0,168.8L415.5,166.0L417.5,166.0L420.0,165.0L422.0,165.0L424.5,164.0L426.5,164.0L427.0,163.5L435.5,162.0L438.0,161.0L440.0,161.0L442.5,160.0L447.5,159.5L448.0,159.0L455.0,159.0L453.0,155.5L454.5,154.7L455.0,153.0L456.5,154.5L456.5,155.5L457.5,157.0L458.5,157.5L459.5,157.0L460.0,156.0L461.0,156.0L465.6,153.0L473.0,147.3L485.0,140.9L515.0,137.4L524.5,131.5L535.0,132.5L550.0,130.0L556.0,126.5L558.5,125.6L556.5,129.0L552.0,134.0L571.5,140.0L585.5,148.2" fill="none" stroke="#6a5a40" stroke-opacity="0.55" stroke-width="0.6"/>
<path d="M395.0,209.5L459.0,165.5L458.0,163.5L466.0,157.5L474.0,152.6L484.5,149.1L499.0,146.3L515.0,144.5L524.5,138.0L535.0,138.0L542.0,137.0L548.0,136.0L551.5,133.6L552.0,134.5L549.0,137.5L548.5,139.0L558.0,142.5L559.5,143.5L560.5,143.5L562.0,144.5L563.0,144.5L564.5,145.5L565.5,145.5L567.0,146.5L568.0,146.5L569.5,147.5L570.5,147.5L572.0,148.5L573.0,148.5L574.5,149.5L575.5,149.5L577.0,150.5L578.0,150.5L579.5,151.5L580.5,151.5L582.0,152.5L583.0,152.5L584.5,153.5L585.5,153.5" fill="none" stroke="#6a5a40" stroke-opacity="0.55" stroke-width="0.6"/>
<polygon points="455.0,176.0 460.0,172.0 466.0,167.0 472.0,163.2 485.0,162.5 500.0,162.0 510.0,160.0 517.6,159.3 518.3,161.5 528.0,161.5 536.0,157.0 545.0,200.0 450.0,215.0" fill="#b42626"/>
<polygon points="458.0,182.0 463.0,177.0 470.0,173.5 476.8,171.0 485.0,169.2 494.4,168.0 499.2,164.5 501.5,163.0 515.0,162.8 518.3,162.9 519.6,165.5 526.5,166.2 532.0,166.0 540.0,200.0 470.0,215.0" fill="#962222"/>
<polygon points="480.4,166.2 485.0,163.6 491.0,163.1 491.5,165.3 486.0,167.8" fill="#c82a28"/>
<polygon points="474.0,198.0 478.0,190.0 481.4,182.5 487.7,177.2 490.9,171.2 501.9,167.7 512.9,166.2 520.8,169.3 524.0,177.0 515.0,200.0 490.0,210.0" fill="#6a1a1a"/>
<polygon points="508.5,185.0 510.0,180.5 514.0,178.8 518.0,181.0 516.0,186.5 511.0,188.5" fill="#3a1414"/>
</g>
<polygon points="419.5,91.5 429.6,97.0 434.5,100.0 440.7,109.0 443.4,116.5 445.5,123.4 447.6,131.7 450.0,138.0 454.0,145.0 457.5,152.0 460.5,163.0 462.5,172.5 466.0,177.0 471.0,183.0 480.0,191.0 486.0,196.5 490.5,202.2 499.9,193.9 509.4,185.6 513.3,185.7 518.9,180.2 521.5,175.0 525.0,168.0 528.0,161.5 532.5,155.5 537.5,149.0 542.5,141.5 547.0,134.5 552.0,127.0 556.5,117.0 563.6,113.9 566.8,110.5 570.7,114.8 579.2,125.2 566.8,134.8 561.3,145.8 557.0,158.0 554.6,170.0 547.5,179.5 538.0,189.0 531.0,198.4 525.0,204.3 515.6,212.6 506.0,216.0 495.5,222.0 486.5,226.7 484.5,225.8 483.0,222.0 476.5,211.0 469.5,200.0 465.0,191.0 461.0,180.0 457.0,170.0 452.0,157.0 445.0,140.0 442.7,136.0 425.0,122.5 403.3,103.6" fill="#c8c8c8" stroke="#c8c8c8" stroke-width="1.1" stroke-linejoin="round"/>
<polyline points="420.7,91.0 441.0,121.0" fill="none" stroke="#b2b2b2" stroke-width="0.6"/>
<polyline points="408.0,104.5 445.0,128.0" fill="none" stroke="#b2b2b2" stroke-width="0.6"/>
<polyline points="460.0,186.0 488.5,202.6 505.0,206.0" fill="none" stroke="#b2b2b2" stroke-width="0.6"/>
<polyline points="471.0,204.0 488.5,202.6 496.0,211.5" fill="none" stroke="#b2b2b2" stroke-width="0.6"/>
<polyline points="481.0,214.0 505.0,211.5" fill="none" stroke="#b2b2b2" stroke-width="0.6"/>
<polyline points="507.0,189.0 517.0,196.0" fill="none" stroke="#b2b2b2" stroke-width="0.6"/>
<polyline points="516.7,184.2 533.3,170.0" fill="none" stroke="#b2b2b2" stroke-width="0.6"/>
<polyline points="495.5,203.0 514.4,211.4" fill="none" stroke="#b2b2b2" stroke-width="0.6"/>
<polyline points="537.8,150.6 559.0,154.0" fill="none" stroke="#b2b2b2" stroke-width="0.6"/>
<polyline points="529.0,175.5 541.4,161.3" fill="none" stroke="#b2b2b2" stroke-width="0.6"/>
<polyline points="563.6,113.9 575.0,124.0" fill="none" stroke="#b2b2b2" stroke-width="0.6"/>
<polyline points="553.0,125.0 570.0,132.0" fill="none" stroke="#b2b2b2" stroke-width="0.6"/>
</g>
<line x1="397.4" y1="164.5" x2="491.1" y2="241.9" stroke="#1a1a1a" stroke-width="1.0"/>
<line x1="491.1" y1="241.9" x2="587.8" y2="166.2" stroke="#1a1a1a" stroke-width="1.0"/>
<line x1="587.8" y1="166.2" x2="601.3" y2="53.1" stroke="#1a1a1a" stroke-width="1.0"/>
<line x1="397.4" y1="164.5" x2="393.7" y2="166.8" stroke="#1a1a1a" stroke-width="0.9"/>
<line x1="406.6" y1="172.1" x2="404.4" y2="173.5" stroke="#1a1a1a" stroke-width="0.9"/>
<line x1="416.1" y1="179.9" x2="412.4" y2="182.3" stroke="#1a1a1a" stroke-width="0.9"/>
<line x1="425.8" y1="188.0" x2="423.6" y2="189.5" stroke="#1a1a1a" stroke-width="0.9"/>
<line x1="435.8" y1="196.2" x2="432.1" y2="198.8" stroke="#1a1a1a" stroke-width="0.9"/>
<line x1="446.1" y1="204.8" x2="443.9" y2="206.3" stroke="#1a1a1a" stroke-width="0.9"/>
<line x1="456.7" y1="213.5" x2="453.0" y2="216.2" stroke="#1a1a1a" stroke-width="0.9"/>
<line x1="467.7" y1="222.6" x2="465.4" y2="224.2" stroke="#1a1a1a" stroke-width="0.9"/>
<line x1="478.9" y1="231.9" x2="475.2" y2="234.7" stroke="#1a1a1a" stroke-width="0.9"/>
<line x1="490.6" y1="241.5" x2="488.3" y2="243.2" stroke="#1a1a1a" stroke-width="0.9"/>
<line x1="580.1" y1="172.2" x2="583.9" y2="174.7" stroke="#1a1a1a" stroke-width="0.9"/>
<line x1="570.0" y1="180.1" x2="572.2" y2="181.5" stroke="#1a1a1a" stroke-width="0.9"/>
<line x1="559.7" y1="188.2" x2="563.5" y2="190.8" stroke="#1a1a1a" stroke-width="0.9"/>
<line x1="549.1" y1="196.5" x2="551.2" y2="198.0" stroke="#1a1a1a" stroke-width="0.9"/>
<line x1="538.1" y1="205.0" x2="542.0" y2="207.8" stroke="#1a1a1a" stroke-width="0.9"/>
<line x1="526.9" y1="213.8" x2="529.0" y2="215.5" stroke="#1a1a1a" stroke-width="0.9"/>
<line x1="515.3" y1="222.9" x2="519.1" y2="225.9" stroke="#1a1a1a" stroke-width="0.9"/>
<line x1="503.4" y1="232.3" x2="505.5" y2="234.0" stroke="#1a1a1a" stroke-width="0.9"/>
<line x1="491.1" y1="241.9" x2="494.9" y2="245.0" stroke="#1a1a1a" stroke-width="0.9"/>
<line x1="588.1" y1="163.8" x2="585.3" y2="165.9" stroke="#1a1a1a" stroke-width="0.9"/>
<line x1="590.5" y1="143.6" x2="587.7" y2="145.7" stroke="#1a1a1a" stroke-width="0.9"/>
<line x1="593.0" y1="122.2" x2="590.2" y2="124.3" stroke="#1a1a1a" stroke-width="0.9"/>
<line x1="595.7" y1="99.7" x2="592.8" y2="101.7" stroke="#1a1a1a" stroke-width="0.9"/>
<line x1="598.6" y1="75.8" x2="595.5" y2="77.8" stroke="#1a1a1a" stroke-width="0.9"/>
<text transform="translate(390,170.5) rotate(-35) scale(1,0.68)" font-family="Liberation Sans, sans-serif" font-weight="bold" font-size="8.4" text-anchor="middle" fill="#111" stroke="#111" stroke-width="0.3">0.2</text>
<text transform="translate(408.3,187.2) rotate(-35) scale(1,0.68)" font-family="Liberation Sans, sans-serif" font-weight="bold" font-size="8.4" text-anchor="middle" fill="#111" stroke="#111" stroke-width="0.3">0.3</text>
<text transform="translate(428.8,204.3) rotate(-35) scale(1,0.68)" font-family="Liberation Sans, sans-serif" font-weight="bold" font-size="8.4" text-anchor="middle" fill="#111" stroke="#111" stroke-width="0.3">0.4</text>
<text transform="translate(450.5,221.5) rotate(-35) scale(1,0.68)" font-family="Liberation Sans, sans-serif" font-weight="bold" font-size="8.4" text-anchor="middle" fill="#111" stroke="#111" stroke-width="0.3">0.5</text>
<text transform="translate(472.8,239.5) rotate(-35) scale(1,0.68)" font-family="Liberation Sans, sans-serif" font-weight="bold" font-size="8.4" text-anchor="middle" fill="#111" stroke="#111" stroke-width="0.3">0.6</text>
<text transform="matrix(-0.26,-0.82,-1.02,0.3,421.5,214.8)" font-family="Liberation Serif, serif" font-size="13.5" text-anchor="middle" dominant-baseline="central" fill="#111">ρ</text>
<text transform="translate(585.5,177.8) rotate(42)" font-family="Liberation Sans, sans-serif" font-weight="bold" font-size="8" text-anchor="middle" fill="#111" stroke="#111" stroke-width="0.25">10</text>
<text transform="translate(566,193.8) rotate(42)" font-family="Liberation Sans, sans-serif" font-weight="bold" font-size="8" text-anchor="middle" fill="#111" stroke="#111" stroke-width="0.25">15</text>
<text transform="translate(543.5,211.5) rotate(42)" font-family="Liberation Sans, sans-serif" font-weight="bold" font-size="8" text-anchor="middle" fill="#111" stroke="#111" stroke-width="0.25">20</text>
<text transform="translate(520.5,228.8) rotate(42)" font-family="Liberation Sans, sans-serif" font-weight="bold" font-size="8" text-anchor="middle" fill="#111" stroke="#111" stroke-width="0.25">25</text>
<text transform="translate(497.3,247.5) rotate(42)" font-family="Liberation Sans, sans-serif" font-weight="bold" font-size="8" text-anchor="middle" fill="#111" stroke="#111" stroke-width="0.25">30</text>
<text transform="translate(557.5,214.5) rotate(-42)" font-family="Liberation Sans, sans-serif" font-weight="bold" font-size="8.2" text-anchor="middle" fill="#111">E, keV</text>
<text transform="translate(602.6,86.5) skewX(-4)" font-family="Liberation Sans, sans-serif" font-weight="bold" font-size="11.5" fill="#111">10<tspan font-size="6" dx="0.4" dy="-4.2">9</tspan></text>
<text transform="translate(599.9,109.8) skewX(-4)" font-family="Liberation Sans, sans-serif" font-weight="bold" font-size="11.5" fill="#111">10<tspan font-size="6" dx="0.4" dy="-4.2">8</tspan></text>
<text transform="translate(596.4,131.8) skewX(-4)" font-family="Liberation Sans, sans-serif" font-weight="bold" font-size="11.5" fill="#111">10<tspan font-size="6" dx="0.4" dy="-4.2">7</tspan></text>
<text transform="translate(593.6,153) skewX(-4)" font-family="Liberation Sans, sans-serif" font-weight="bold" font-size="11.5" fill="#111">10<tspan font-size="6" dx="0.4" dy="-4.2">6</tspan></text>
<text transform="translate(592.4,173.1) skewX(-4)" font-family="Liberation Sans, sans-serif" font-weight="bold" font-size="11.5" fill="#111">10<tspan font-size="6" dx="0.4" dy="-4.2">5</tspan></text>
<text transform="translate(617.5,122.5) rotate(-82.5)" font-family="Liberation Sans, sans-serif" font-style="italic" font-weight="bold" font-size="7.8" text-anchor="middle" dominant-baseline="central" fill="#111">Active NPA signal, a.u.</text>
<text x="408.3" y="169.5" font-family="Liberation Sans, sans-serif" font-weight="bold" font-size="13.3" fill="#8a8a8a">σ level</text>
</svg>
</body></html>
